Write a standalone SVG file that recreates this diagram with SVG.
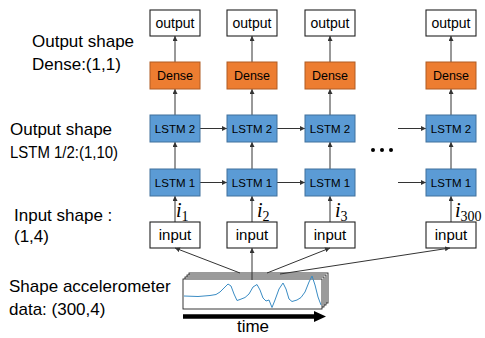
<svg xmlns="http://www.w3.org/2000/svg" width="485" height="338" viewBox="0 0 485 338">
<defs>
<marker id="ah" viewBox="0 0 8 8" refX="8" refY="4" markerWidth="5" markerHeight="5" orient="auto" markerUnits="userSpaceOnUse">
<path d="M0,0 L8,4 L0,8 z" fill="#333"/>
</marker>
<marker id="big" viewBox="0 0 10 10" refX="9" refY="5" markerWidth="11" markerHeight="11" orient="auto" markerUnits="userSpaceOnUse">
<path d="M0,0 L10,5 L0,10 z" fill="#000"/>
</marker>
</defs>
<style>
.wb{fill:#fff;stroke:#222;stroke-width:1.1}
.ds{fill:#ED7D31;stroke:#B05D24;stroke-width:1}
.ls{fill:#5B9BD5;stroke:#41719C;stroke-width:1}
.t{font-family:"Liberation Sans",Arial,sans-serif;fill:#000}
.lbl{font-size:17px}
.c{text-anchor:middle}
.ot{font-size:14px}
.dt{font-size:12.5px}
.lt{font-size:11.5px}
.it{font-size:15px}
.sym{font-family:"Liberation Serif","Times New Roman",serif;font-style:italic;font-size:20px;fill:#000}
.sub{font-size:14px;font-style:normal}
.cn{stroke:#333;stroke-width:1;fill:none;marker-end:url(#ah)}
.st{fill:#fff;stroke:#222;stroke-width:0.9}
</style>

<g id="labels">
<text class="t lbl" x="32" y="47">Output shape</text>
<text class="t lbl" x="32" y="70">Dense:(1,1)</text>
<text class="t lbl" x="10" y="135">Output shape</text>
<text class="t lbl" x="10" y="158" textLength="108" lengthAdjust="spacingAndGlyphs">LSTM 1/2:(1,10)</text>
<text class="t lbl" x="14" y="221">Input shape :</text>
<text class="t lbl" x="14" y="242">(1,4)</text>
<text class="t lbl" x="9" y="292">Shape accelerometer</text>
<text class="t lbl" x="9" y="315">data: (300,4)</text>
</g>

<g id="connectors">
<!-- vertical -->
<line class="cn" x1="175" y1="62" x2="175" y2="36"/>
<line class="cn" x1="175" y1="115" x2="175" y2="89"/>
<line class="cn" x1="175" y1="169" x2="175" y2="142"/>
<line class="cn" x1="175" y1="222" x2="175" y2="196"/>
<line class="cn" x1="252" y1="62" x2="252" y2="36"/>
<line class="cn" x1="252" y1="115" x2="252" y2="89"/>
<line class="cn" x1="252" y1="169" x2="252" y2="142"/>
<line class="cn" x1="252" y1="222" x2="252" y2="196"/>
<line class="cn" x1="330" y1="62" x2="330" y2="36"/>
<line class="cn" x1="330" y1="115" x2="330" y2="89"/>
<line class="cn" x1="330" y1="169" x2="330" y2="142"/>
<line class="cn" x1="330" y1="222" x2="330" y2="196"/>
<line class="cn" x1="451" y1="62" x2="451" y2="36"/>
<line class="cn" x1="451" y1="115" x2="451" y2="89"/>
<line class="cn" x1="451" y1="169" x2="451" y2="142"/>
<line class="cn" x1="451" y1="222" x2="451" y2="196"/>
<!-- horizontal -->
<line class="cn" x1="200" y1="128.5" x2="227" y2="128.5"/>
<line class="cn" x1="277" y1="128.5" x2="305" y2="128.5"/>
<line class="cn" x1="398" y1="128.5" x2="426" y2="128.5"/>
<line class="cn" x1="200" y1="182.5" x2="227" y2="182.5"/>
<line class="cn" x1="277" y1="182.5" x2="305" y2="182.5"/>
<line class="cn" x1="398" y1="182.5" x2="426" y2="182.5"/>
</g>

<g id="col1">
<rect id="out1" class="wb" x="150" y="10" width="50" height="26"/>
<text class="t ot c" x="175" y="28">output</text>
<rect id="dense1" class="ds" x="150" y="62" width="50" height="27"/>
<text class="t dt c" x="175" y="80">Dense</text>
<rect id="lstm2_1" class="ls" x="150" y="115" width="50" height="27"/>
<text class="t lt c" x="175" y="132.5">LSTM 2</text>
<rect id="lstm1_1" class="ls" x="150" y="169" width="50" height="27"/>
<text class="t lt c" x="175" y="186.5">LSTM 1</text>
<rect id="in1" class="wb" x="150" y="222" width="50" height="26"/>
<text class="t it c" x="175" y="240">input</text>
<text class="sym" x="176" y="217">i<tspan class="sub" dy="4">1</tspan></text>
</g>

<g id="col2">
<rect class="wb" x="227" y="10" width="50" height="26"/>
<text class="t ot c" x="252" y="28">output</text>
<rect class="ds" x="227" y="62" width="50" height="27"/>
<text class="t dt c" x="252" y="80">Dense</text>
<rect class="ls" x="227" y="115" width="50" height="27"/>
<text class="t lt c" x="252" y="132.5">LSTM 2</text>
<rect class="ls" x="227" y="169" width="50" height="27"/>
<text class="t lt c" x="252" y="186.5">LSTM 1</text>
<rect class="wb" x="227" y="222" width="50" height="26"/>
<text class="t it c" x="252" y="240">input</text>
<text class="sym" x="257" y="217">i<tspan class="sub" dy="4">2</tspan></text>
</g>

<g id="col3">
<rect class="wb" x="305" y="10" width="50" height="26"/>
<text class="t ot c" x="330" y="28">output</text>
<rect class="ds" x="305" y="62" width="50" height="27"/>
<text class="t dt c" x="330" y="80">Dense</text>
<rect class="ls" x="305" y="115" width="50" height="27"/>
<text class="t lt c" x="330" y="132.5">LSTM 2</text>
<rect class="ls" x="305" y="169" width="50" height="27"/>
<text class="t lt c" x="330" y="186.5">LSTM 1</text>
<rect class="wb" x="305" y="222" width="50" height="26"/>
<text class="t it c" x="330" y="240">input</text>
<text class="sym" x="335" y="217">i<tspan class="sub" dy="4">3</tspan></text>
</g>

<g id="dots">
<circle cx="373" cy="150" r="2" fill="#000"/>
<circle cx="382" cy="150" r="2" fill="#000"/>
<circle cx="391" cy="150" r="2" fill="#000"/>
</g>

<g id="col4">
<rect class="wb" x="426" y="10" width="50" height="26"/>
<text class="t ot c" x="451" y="28">output</text>
<rect class="ds" x="426" y="62" width="50" height="27"/>
<text class="t dt c" x="451" y="80">Dense</text>
<rect class="ls" x="426" y="115" width="50" height="27"/>
<text class="t lt c" x="451" y="132.5">LSTM 2</text>
<rect class="ls" x="426" y="169" width="50" height="27"/>
<text class="t lt c" x="451" y="186.5">LSTM 1</text>
<rect class="wb" x="426" y="222" width="50" height="26"/>
<text class="t it c" x="451" y="240">input</text>
<text class="sym" x="455" y="217">i<tspan class="sub" dy="4">300</tspan></text>
</g>

<g id="data">
<rect class="st" x="189" y="273" width="139" height="30"/>
<rect class="st" x="187" y="275" width="139" height="30"/>
<rect class="st" x="185" y="277" width="139" height="30"/>
<rect class="st" x="183" y="279" width="139" height="30"/>
<path d="M184,296 L198,296.5 L210,295.5 L216,294.5 L220,292 L224,288 L228,284 L231,286 L234,294 L237,300.5 L240,299.5 L245,297.5 L249,294 L253,287 L257,284.5 L260,290 L263,298 L266,301 L269,300 L272,307.5 L275,300 L279,289 L283,283 L286,289 L289,299 L292,301.5 L297,300 L301,297.5 L305,292 L309,282 L312,276 L315,285 L318,297 L321,305" fill="none" stroke="#3A8CC4" stroke-width="1" stroke-linejoin="round"/>
</g>

<g id="data-connectors">
<line class="cn" x1="240" y1="273" x2="175" y2="248"/>
<line class="cn" x1="252" y1="280" x2="252" y2="248"/>
<line class="cn" x1="267" y1="273" x2="330" y2="248"/>
<line class="cn" x1="280" y1="274" x2="450" y2="248"/>
</g>

<g id="time">
<line x1="183" y1="316.5" x2="316" y2="316.5" stroke="#000" stroke-width="4.5"/>
<path d="M314,311 L326,316.5 L314,322 z" fill="#000"/>
<text class="t lbl c" x="253" y="332">time</text>
</g>
</svg>
